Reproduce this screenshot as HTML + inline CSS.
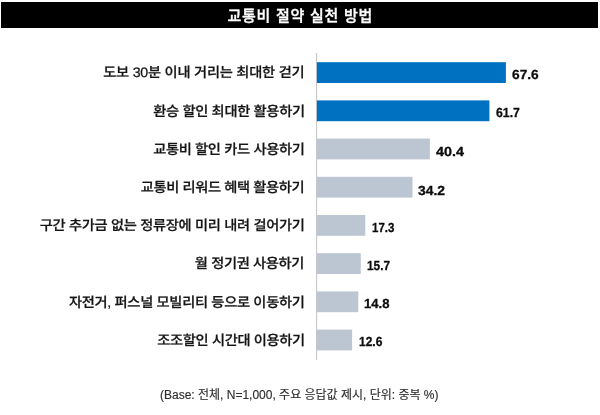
<!DOCTYPE html>
<html lang="ko">
<head>
<meta charset="utf-8">
<title>교통비 절약 실천 방법</title>
<style>
html,body{margin:0;padding:0;background:#fff;}
body{width:600px;height:415px;position:relative;overflow:hidden;font-family:"Liberation Sans","Noto Sans CJK KR",sans-serif;color:#111;}
.title{position:absolute;left:1px;top:2px;width:597px;height:26px;background:#000;color:#fff;text-align:center;font-weight:500;-webkit-text-stroke:0.35px #fff;font-size:15px;line-height:28px;letter-spacing:0.75px;text-indent:1.6px;font-family:"Liberation Sans","Noto Sans CJK KR",sans-serif;}
.chart{position:absolute;left:0;top:0;width:600px;height:415px;display:block;}
.lbl{position:absolute;right:295.72px;white-space:nowrap;font-family:"Liberation Sans","Noto Sans CJK KR",sans-serif;font-weight:500;font-size:13.7px;line-height:20px;height:20px;color:#151515;-webkit-text-stroke:0.24px #151515;text-rendering:geometricPrecision;transform:scaleX(1.04);transform-origin:100% 50%;}
.val{position:absolute;white-space:nowrap;font-family:"Liberation Sans",sans-serif;font-weight:700;font-size:13.2px;line-height:20px;height:20px;color:#0c0c0c;-webkit-text-stroke:0.3px #0c0c0c;text-rendering:geometricPrecision;transform-origin:0 50%;}
.note{position:absolute;left:0;width:598.5px;top:387px;text-align:center;font-family:"Liberation Sans","Noto Sans CJK KR",sans-serif;font-size:12px;letter-spacing:0px;line-height:16px;color:#2e2e2e;-webkit-text-stroke:0.15px #2e2e2e;}
</style>
</head>
<body>
<div class="title">교통비 절약 실천 방법</div>
<svg class="chart" width="600" height="415" viewBox="0 0 600 415" aria-hidden="true">
<rect x="316.05" y="53.0" width="1.1" height="306.9" fill="#c6c6c9"/>
<rect x="316.9" y="62.20" width="189.00" height="20.8" fill="#0070c0"/>
<rect x="316.9" y="100.40" width="172.50" height="20.8" fill="#0070c0"/>
<rect x="316.9" y="138.60" width="112.95" height="20.8" fill="#bcc5d2"/>
<rect x="316.9" y="176.80" width="95.62" height="20.8" fill="#bcc5d2"/>
<rect x="316.9" y="215.00" width="48.37" height="20.8" fill="#bcc5d2"/>
<rect x="316.9" y="253.20" width="43.89" height="20.8" fill="#bcc5d2"/>
<rect x="316.9" y="291.40" width="41.38" height="20.8" fill="#bcc5d2"/>
<rect x="316.9" y="329.60" width="35.23" height="20.8" fill="#bcc5d2"/>
</svg>
<div class="lbl" style="top:62.90px;letter-spacing:-0.230px">도보 30분 이내 거리는 최대한 걷기</div>
<div class="val" style="top:65.00px;left:512.02px;transform:scaleX(1.040)">67.6</div>
<div class="lbl" style="top:102.10px;letter-spacing:-0.300px">환승 할인 최대한 활용하기</div>
<div class="val" style="top:103.05px;left:496.02px;transform:scaleX(0.930)">61.7</div>
<div class="lbl" style="top:140.05px;letter-spacing:-0.320px">교통비 할인 카드 사용하기</div>
<div class="val" style="top:142.00px;left:436.08px;transform:scaleX(1.090)">40.4</div>
<div class="lbl" style="top:178.00px;letter-spacing:-0.360px">교통비 리워드 혜택 활용하기</div>
<div class="val" style="top:180.90px;left:418.06px;transform:scaleX(1.050)">34.2</div>
<div class="lbl" style="top:215.95px;letter-spacing:-0.300px">구간 추가금 없는 정류장에 미리 내려 걸어가기</div>
<div class="val" style="top:218.05px;left:372.11px;transform:scaleX(0.870)">17.3</div>
<div class="lbl" style="top:253.90px;letter-spacing:-0.340px">월 정기권 사용하기</div>
<div class="val" style="top:256.00px;left:367.07px;transform:scaleX(0.900)">15.7</div>
<div class="lbl" style="top:293.10px;letter-spacing:-0.300px">자전거, 퍼스널 모빌리티 등으로 이동하기</div>
<div class="val" style="top:294.00px;left:364.00px;transform:scaleX(0.990)">14.8</div>
<div class="lbl" style="top:331.05px;letter-spacing:-0.340px">조조할인 시간대 이용하기</div>
<div class="val" style="top:332.05px;left:359.07px;transform:scaleX(0.910)">12.6</div>
<div class="note">(Base: 전체, N=1,000, 주요 응답값 제시, 단위: 중복 %)</div>
</body>
</html>
